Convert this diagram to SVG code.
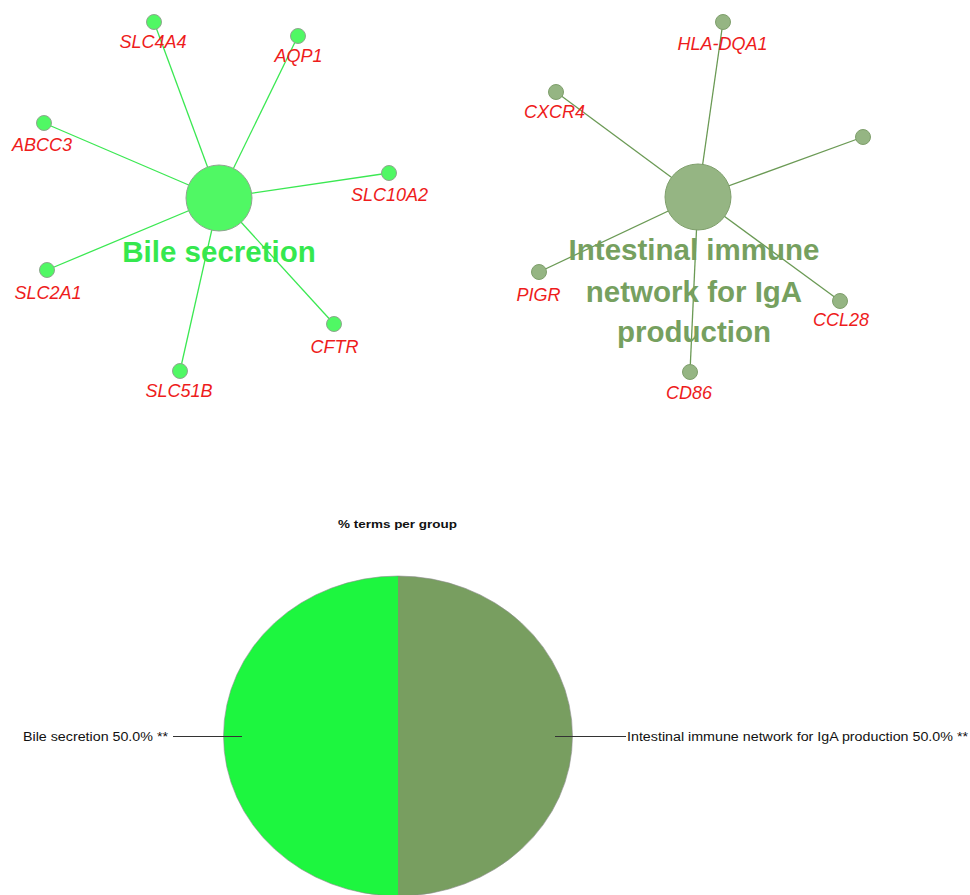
<svg xmlns="http://www.w3.org/2000/svg" width="970" height="895" viewBox="0 0 970 895">
<style>
.gene{font-family:"Liberation Sans",Arial,sans-serif;font-style:italic;font-size:18px;fill:#EE1C1C;text-anchor:middle}
.hubtxt{font-family:"Liberation Sans",Arial,sans-serif;font-weight:bold;font-size:29.5px;text-anchor:middle}
.e1{stroke:#3BE852;stroke-width:1.3;fill:none}
.e2{stroke:#6B9A55;stroke-width:1.3;fill:none}
.n1{fill:#50F864;stroke:#8FA68F;stroke-width:1}
.n2{fill:#95B583;stroke:#7F9F6C;stroke-width:1}
.lbl{font-family:"Liberation Sans",Arial,sans-serif;font-size:12px;fill:#111}
</style>
<rect width="970" height="895" fill="#fff"/>
<g id="connectors">
<line class="e1" x1="219" y1="198" x2="154" y2="22"/>
<line class="e1" x1="219" y1="198" x2="298" y2="36"/>
<line class="e1" x1="219" y1="198" x2="44" y2="123"/>
<line class="e1" x1="219" y1="198" x2="389" y2="173"/>
<line class="e1" x1="219" y1="198" x2="47" y2="270"/>
<line class="e1" x1="219" y1="198" x2="334" y2="324"/>
<line class="e1" x1="219" y1="198" x2="180" y2="371"/>
<line class="e2" x1="698" y1="197" x2="723" y2="22"/>
<line class="e2" x1="698" y1="197" x2="556" y2="92"/>
<line class="e2" x1="698" y1="197" x2="863" y2="137"/>
<line class="e2" x1="698" y1="197" x2="539" y2="272"/>
<line class="e2" x1="698" y1="197" x2="840" y2="301"/>
<line class="e2" x1="698" y1="197" x2="690" y2="372"/>
</g>
<g id="bile-secretion">
<circle class="n1" cx="219" cy="198" r="33"/>
<text class="hubtxt" x="219" y="262" fill="#35E84E">Bile secretion</text>
</g>
<g id="SLC4A4"><circle class="n1" cx="154" cy="22" r="7.5"/><text class="gene" x="153" y="48">SLC4A4</text></g>
<g id="AQP1"><circle class="n1" cx="298" cy="36" r="7.5"/><text class="gene" x="298.5" y="62">AQP1</text></g>
<g id="ABCC3"><circle class="n1" cx="44" cy="123" r="7.5"/><text class="gene" x="42" y="151">ABCC3</text></g>
<g id="SLC10A2"><circle class="n1" cx="389" cy="173" r="7.5"/><text class="gene" x="389.5" y="201">SLC10A2</text></g>
<g id="SLC2A1"><circle class="n1" cx="47" cy="270" r="7.5"/><text class="gene" x="48" y="299">SLC2A1</text></g>
<g id="CFTR"><circle class="n1" cx="334" cy="324" r="7.5"/><text class="gene" x="334.5" y="353">CFTR</text></g>
<g id="SLC51B"><circle class="n1" cx="180" cy="371" r="7.5"/><text class="gene" x="179" y="397">SLC51B</text></g>
<g id="intestinal-immune-network">
<circle class="n2" cx="698" cy="197" r="33"/>
<text class="hubtxt" fill="#76A05F"><tspan x="694" y="260">Intestinal immune</tspan><tspan x="694" y="302">network for IgA</tspan><tspan x="694" y="342">production</tspan></text>
</g>
<g id="HLA-DQA1"><circle class="n2" cx="723" cy="22" r="7.5"/><text class="gene" x="722.5" y="50">HLA-DQA1</text></g>
<g id="CXCR4"><circle class="n2" cx="556" cy="92" r="7.5"/><text class="gene" x="554.5" y="118">CXCR4</text></g>
<g id="unlabeled-node"><circle class="n2" cx="863" cy="137" r="7.5"/></g>
<g id="PIGR"><circle class="n2" cx="539" cy="272" r="7.5"/><text class="gene" x="538.5" y="301">PIGR</text></g>
<g id="CCL28"><circle class="n2" cx="840" cy="301" r="7.5"/><text class="gene" x="841" y="326">CCL28</text></g>
<g id="CD86"><circle class="n2" cx="690" cy="372" r="7.5"/><text class="gene" x="689" y="399">CD86</text></g>
<g id="pie-chart">
<text x="338" y="528" font-family="'Liberation Sans',Arial,sans-serif" font-weight="bold" font-size="10.5" fill="#111" textLength="119" lengthAdjust="spacingAndGlyphs">% terms per group</text>
<path d="M398,576 A174.5,160 0 0 0 398,896 Z" fill="#1DF63F"/>
<path d="M398,576 A174.5,160 0 0 1 398,896 Z" fill="#789E60"/>
<ellipse cx="398" cy="736" rx="174.5" ry="160" fill="none" stroke="#8a8a8a" stroke-width="0.6"/>
<line x1="173" y1="736.5" x2="242" y2="736.5" stroke="#333" stroke-width="1"/>
<line x1="555" y1="736.5" x2="626" y2="736.5" stroke="#333" stroke-width="1"/>
<text class="lbl" x="23" y="741" textLength="145" lengthAdjust="spacingAndGlyphs">Bile secretion 50.0% **</text>
<text class="lbl" x="627" y="741" textLength="341" lengthAdjust="spacingAndGlyphs">Intestinal immune network for IgA production 50.0% **</text>
</g>
</svg>
